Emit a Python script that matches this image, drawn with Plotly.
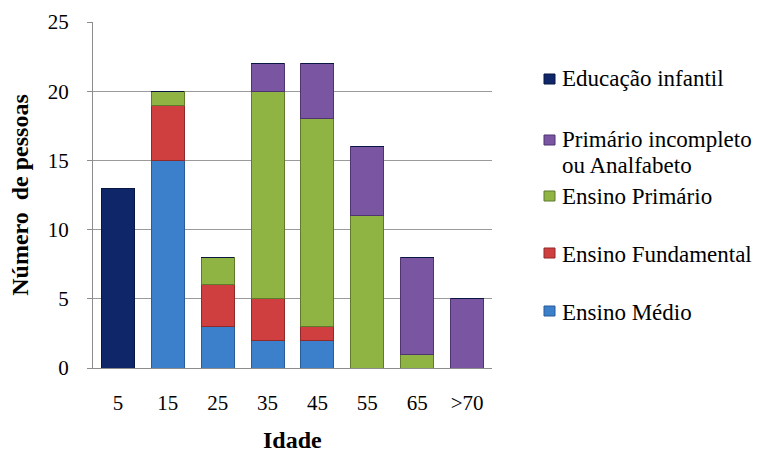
import plotly.graph_objects as go

idades = ["5", "15", "25", "35", "45", "55", "65", ">70"]

ensino_medio = [0, 15, 3, 2, 2, 0, 0, 0]
ensino_fundamental = [0, 4, 3, 3, 1, 0, 0, 0]
ensino_primario = [0, 1, 2, 15, 15, 11, 1, 0]
primario_incompleto = [0, 0, 0, 2, 4, 5, 7, 5]
educacao_infantil = [13, 0, 0, 0, 0, 0, 0, 0]

# stacking order, bottom to top
series = [
    ("Ensino Médio", ensino_medio, "#3c7fcb", "#2a5d97"),
    ("Ensino Fundamental", ensino_fundamental, "#cf3f3f", "#8f2a2a"),
    ("Ensino Primário", ensino_primario, "#8fb444", "#5f7a2c"),
    ("Primário incompleto ou Analfabeto", primario_incompleto, "#7a55a2", "#4f3570"),
    ("Educação infantil", educacao_infantil, "#0f2768", "#071742"),
]

# legend rows (top to bottom): series index, text lines
legend_rows = [
    (4, ["Educação infantil"]),
    (3, ["Primário incompleto", "ou Analfabeto"]),
    (2, ["Ensino Primário"]),
    (1, ["Ensino Fundamental"]),
    (0, ["Ensino Médio"]),
]

W, H = 759, 454
ML, MR, MT, MB = 93, 267, 22, 86
PW, PH = W - ML - MR, H - MT - MB


def px_x(px):
    return (px - ML) / PW


def px_y(py):
    return (H - MB - py) / PH


serif = "Times New Roman"

fig = go.Figure()
for nome, valores, cor, borda in series:
    fig.add_trace(go.Bar(
        x=idades, y=valores, name=nome,
        marker=dict(color=cor, line=dict(color=borda, width=1)),
    ))

# legend drawn as swatches + text
marker_cy = [79, 140, 196, 253, 311]
line_cy = [[79], [139, 165], [196], [254], [312]]
for (idx, linhas), my, ly in zip(legend_rows, marker_cy, line_cy):
    _, _, cor, borda = series[idx]
    fig.add_shape(
        type="rect", xref="paper", yref="paper",
        x0=px_x(544), x1=px_x(555), y0=px_y(my + 5), y1=px_y(my - 5),
        fillcolor=cor, line=dict(color=borda, width=1),
    )
    for texto, y in zip(linhas, ly):
        fig.add_annotation(
            xref="paper", yref="paper", x=px_x(560), y=px_y(y),
            xanchor="left", yanchor="middle", showarrow=False,
            text=texto, font=dict(family=serif, size=23, color="black"),
        )

# x-axis title, set low near the bottom edge
fig.add_annotation(
    xref="paper", yref="paper", x=0.5, y=px_y(440),
    xanchor="center", yanchor="middle", showarrow=False,
    text="<b>Idade</b>", font=dict(family=serif, size=24, color="black"),
)

fig.update_layout(
    barmode="stack",
    bargap=0.34,
    width=W, height=H,
    margin=dict(l=ML, r=MR, t=MT, b=MB),
    paper_bgcolor="white",
    plot_bgcolor="white",
    font=dict(family=serif, size=20, color="black"),
    showlegend=False,
    xaxis=dict(
        showline=True, linecolor="#8c8c8c", linewidth=1,
        ticks="", tickfont=dict(family=serif, size=21),
        ticklabelstandoff=16,
        automargin=False,
    ),
    yaxis=dict(
        title=dict(text="<b>Número  de pessoas</b>", font=dict(family=serif, size=24), standoff=12),
        range=[0, 25], dtick=5,
        showgrid=True, gridcolor="#9a9a9a", gridwidth=1,
        showline=True, linecolor="#8c8c8c", linewidth=1,
        ticks="outside", ticklen=5, tickcolor="#8c8c8c",
        tickfont=dict(family=serif, size=21),
        ticklabelstandoff=14,
        zeroline=False,
        automargin=False,
    ),
)

fig.write_html("out.html")
